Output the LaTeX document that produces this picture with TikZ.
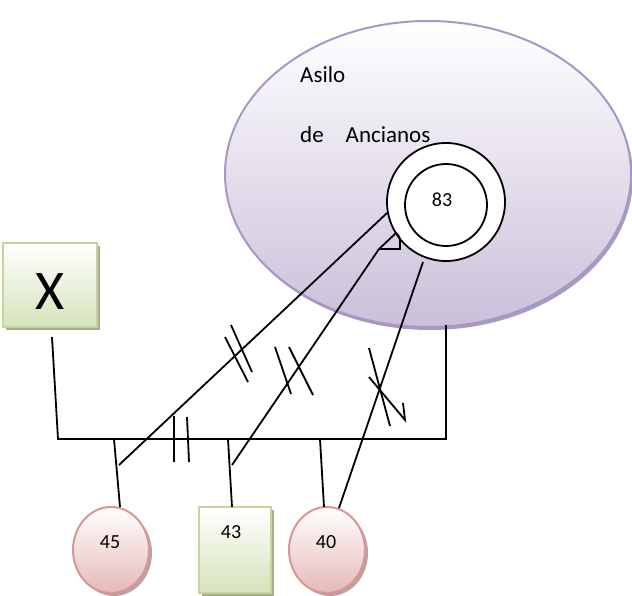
\documentclass[tikz,border=0pt]{standalone}
\usepackage{fontspec}
\setmainfont{Carlito}
\usetikzlibrary{shapes.geometric,shadows}
\definecolor{lilac}{HTML}{CBBFDA}
\definecolor{lilacedge}{HTML}{A797C6}
\definecolor{lilacshadow}{HTML}{A89CB8}
\definecolor{greenfill}{HTML}{D6E3BC}
\definecolor{greenedge}{HTML}{C3D69B}
\definecolor{greenshadow}{HTML}{A6AE92}
\definecolor{pinkfill}{HTML}{E5B9B7}
\definecolor{pinkedge}{HTML}{D99694}
\definecolor{pinkshadow}{HTML}{B7A3A3}
\tikzset{
  asilostyle/.style={ellipse, draw=lilacedge, line width=2pt, top color=white, bottom color=lilac,
    minimum width=406pt, minimum height=306pt, inner sep=0pt,
    drop shadow={shadow xshift=2pt, shadow yshift=-3pt, fill=lilacshadow, opacity=1}},
  ringstyle/.style={circle, draw=black, fill=white, line width=1.8pt, inner sep=0pt},
  greenbox/.style={rectangle, draw=greenedge, line width=2pt, top color=white, bottom color=greenfill,
    inner sep=0pt, drop shadow={shadow xshift=3pt, shadow yshift=-3pt, fill=greenshadow, opacity=1}},
  pinkoval/.style={ellipse, draw=pinkedge, line width=2pt, top color=white, bottom color=pinkfill,
    minimum width=76pt, minimum height=86pt, inner sep=0pt,
    drop shadow={shadow xshift=3pt, shadow yshift=-3pt, fill=pinkshadow, opacity=1}},
  numtext/.style={font=\fontsize{20}{20}\selectfont, inner sep=0pt},
  bigtext/.style={font=\fontsize{23}{23}\selectfont, inner sep=0pt, anchor=base west},
  kin/.style={line width=1.8pt, black},
}
\begin{document}
\begin{tikzpicture}[x=1pt,y=-1pt]
\useasboundingbox (0,0) rectangle (632,596);

% main ellipse
\node[asilostyle] (asilo) at (428,174) {};
\node[bigtext] (asilotxt) at (300,83) {Asilo};
\node[bigtext] (anctxt) at (300,143) {de\hspace{22pt}Ancianos};

% nested circles
\node[ringstyle, minimum size=118pt] (outer) at (446,202) {};
\node[ringstyle, minimum size=82pt] (inner) at (446,205) {};
\node[numtext] (t83) at (442,200) {83};

% X box
\node[greenbox, minimum width=94pt, minimum height=84pt] (xbox) at (50,285) {};
\node[font=\fontsize{56}{56}\selectfont, inner sep=0pt] (xtxt) at (50,292) {X};

% children
\node[pinkoval] (p45) at (111,550) {};
\node[numtext] (t45) at (110,542) {45};
\node[greenbox, minimum width=72pt, minimum height=86pt] (p43) at (235,550) {};
\node[numtext] (t43) at (231,532) {43};
\node[pinkoval] (p40) at (327,550) {};
\node[numtext] (t40) at (326,542) {40};

% coordinates
\coordinate (xl) at (52,337);
\coordinate (hl) at (58,439);
\coordinate (hr) at (446,439);
\coordinate (er) at (446,325);
\coordinate (d1t) at (114,439);
\coordinate (d1b) at (120,507);
\coordinate (d2t) at (228,439);
\coordinate (d2b) at (232,507);
\coordinate (d3t) at (320,439);
\coordinate (d3b) at (324,507);
\coordinate (a1) at (387,213);
\coordinate (a1e) at (119,465);
\coordinate (a2e) at (232,465);
\coordinate (a2m) at (379,249);
\coordinate (a2t) at (396,233);
\coordinate (a2r) at (400,249);
\coordinate (a3) at (423,262);
\coordinate (a3e) at (339,508);

% family line
\draw[kin] (xl) -- (hl) -- (hr) -- (er);
\draw[kin] (d1t) -- (d1b);
\draw[kin] (d2t) -- (d2b);
\draw[kin] (d3t) -- (d3b);

% links to the home
\draw[kin] (a1) -- (a1e);
\draw[kin] (a2e) -- (a2m) -- (a2t) .. controls (400,236) and (400,239) .. (400,243) -- (a2r) -- (a2m);
\draw[kin] (a3) -- (a3e);

% conflict marks
\draw[kin] (231,325) -- (252,372);
\draw[kin] (225,337) -- (248,382);
\draw[kin] (275,347) -- (291,394);
\draw[kin] (289,347) -- (313,395);
\draw[kin] (369,348) -- (390,426);
\draw[kin] (369,377) -- (405,420) -- (403,403);
\draw[kin] (174,416) -- (174,462);
\draw[kin] (187,417) -- (189,462);
\end{tikzpicture}
\end{document}
